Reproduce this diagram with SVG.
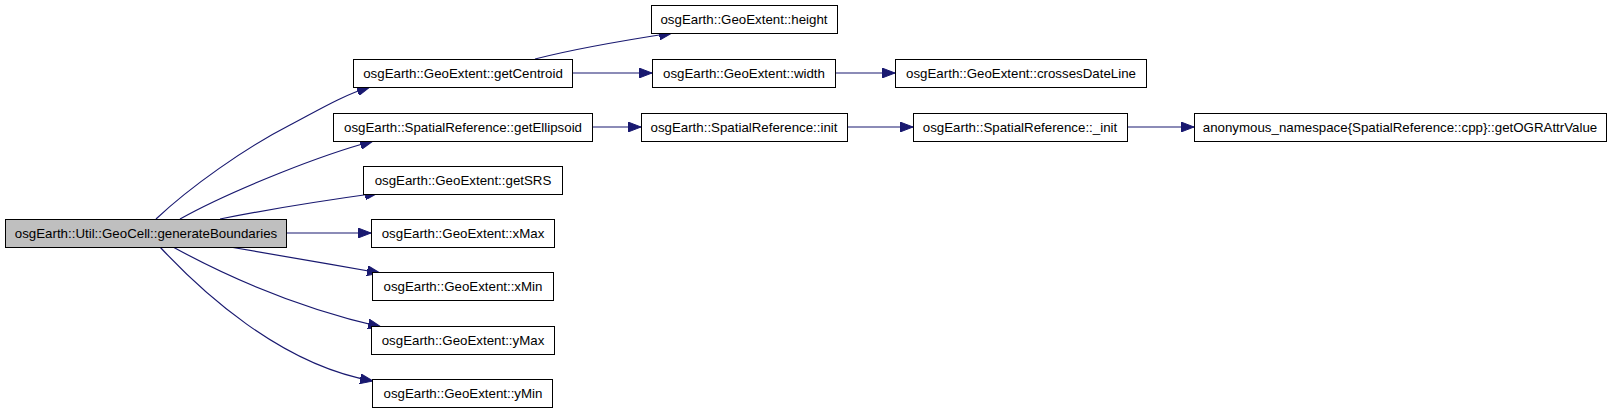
<svg xmlns="http://www.w3.org/2000/svg" width="1611" height="413" viewBox="0 0 1611 413">
<style>
.n rect{fill:#fff;stroke:#000;stroke-width:1}
.n.main rect{fill:#bfbfbf}
.n text{font-family:"Liberation Sans",Arial,sans-serif;font-size:13.3px;fill:#000;text-anchor:middle}
.e path{fill:none;stroke:#191970;stroke-width:1.2}
</style>
<defs>
<marker id="ah" markerUnits="userSpaceOnUse" markerWidth="13" markerHeight="10" refX="13" refY="5" orient="auto">
<path d="M0,0 L13,5 L0,10 z" fill="#191970" stroke="#191970" stroke-width="1"/>
</marker>
</defs>
<rect width="1611" height="413" fill="#fff"/>
<g id="edges" class="e">
<path d="M156,219 C190,187 245,148 290,125 C315,112 343,95 370,87" marker-end="url(#ah)"/>
<path d="M180,219 C205,205 240,189 280,173 C310,161 340,150 373,141" marker-end="url(#ah)"/>
<path d="M220,219 C260,211 320,201 378,193" marker-end="url(#ah)"/>
<path d="M286,233 L371,233" marker-end="url(#ah)"/>
<path d="M230,247 C275,255 330,264 380,273" marker-end="url(#ah)"/>
<path d="M173,247 C215,270 290,306 381,327" marker-end="url(#ah)"/>
<path d="M160,247 C200,290 280,365 373,381" marker-end="url(#ah)"/>
<path d="M535,59 C570,50 620,41 672,33" marker-end="url(#ah)"/>
<path d="M572,73 L652,73" marker-end="url(#ah)"/>
<path d="M835,73 L895,73" marker-end="url(#ah)"/>
<path d="M592,127 L641,127" marker-end="url(#ah)"/>
<path d="M847,127 L913,127" marker-end="url(#ah)"/>
<path d="M1127,127 L1194,127" marker-end="url(#ah)"/>
</g>
<g id="n_main" class="n main"><rect x="5.5" y="219.5" width="281" height="28"/><text x="146" y="238">osgEarth::Util::GeoCell::generateBoundaries</text></g>
<g id="n_getCentroid" class="n"><rect x="353.5" y="59.5" width="219" height="28"/><text x="463" y="78">osgEarth::GeoExtent::getCentroid</text></g>
<g id="n_getEllipsoid" class="n"><rect x="333.5" y="113.5" width="259" height="28"/><text x="463" y="132">osgEarth::SpatialReference::getEllipsoid</text></g>
<g id="n_getSRS" class="n"><rect x="363.5" y="166.5" width="199" height="28"/><text x="463" y="185">osgEarth::GeoExtent::getSRS</text></g>
<g id="n_xMax" class="n"><rect x="371.5" y="219.5" width="183" height="28"/><text x="463" y="238">osgEarth::GeoExtent::xMax</text></g>
<g id="n_xMin" class="n"><rect x="372.5" y="272.5" width="181" height="28"/><text x="463" y="291">osgEarth::GeoExtent::xMin</text></g>
<g id="n_yMax" class="n"><rect x="371.5" y="326.5" width="183" height="28"/><text x="463" y="345">osgEarth::GeoExtent::yMax</text></g>
<g id="n_yMin" class="n"><rect x="372.5" y="379.5" width="180" height="28"/><text x="463" y="398">osgEarth::GeoExtent::yMin</text></g>
<g id="n_height" class="n"><rect x="651.5" y="5.5" width="186" height="28"/><text x="744" y="24">osgEarth::GeoExtent::height</text></g>
<g id="n_width" class="n"><rect x="652.5" y="59.5" width="183" height="28"/><text x="744" y="78">osgEarth::GeoExtent::width</text></g>
<g id="n_init" class="n"><rect x="641.5" y="113.5" width="206" height="28"/><text x="744" y="132">osgEarth::SpatialReference::init</text></g>
<g id="n_crossesDateLine" class="n"><rect x="895.5" y="59.5" width="251" height="28"/><text x="1021" y="78">osgEarth::GeoExtent::crossesDateLine</text></g>
<g id="n_init2" class="n"><rect x="913.5" y="113.5" width="214" height="28"/><text x="1020" y="132">osgEarth::SpatialReference::_init</text></g>
<g id="n_getOGRAttrValue" class="n"><rect x="1194.5" y="113.5" width="412" height="28"/><text x="1400" y="132">anonymous_namespace{SpatialReference::cpp}::getOGRAttrValue</text></g>
</svg>
